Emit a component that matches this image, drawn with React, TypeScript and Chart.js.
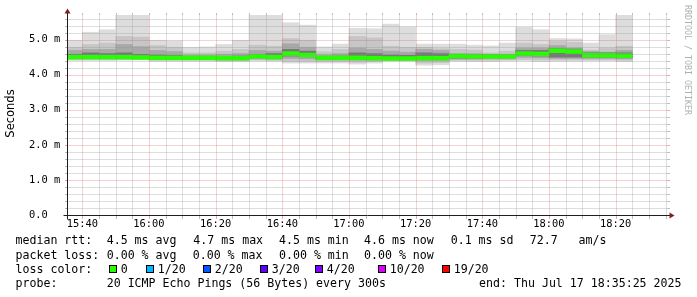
import React, { useEffect, useRef } from 'react';
import { Chart, registerables } from 'chart.js';

Chart.register(...registerables);

// 5-minute bins (start time of each step)
const BIN_STARTS = [
  '15:35', '15:40', '15:45', '15:50', '15:55',
  '16:00', '16:05', '16:10', '16:15', '16:20', '16:25', '16:30', '16:35', '16:40', '16:45', '16:50', '16:55',
  '17:00', '17:05', '17:10', '17:15', '17:20', '17:25', '17:30', '17:35', '17:40', '17:45', '17:50', '17:55',
  '18:00', '18:05', '18:10', '18:15', '18:20',
];

// values in milliseconds
const MEDIAN_MS = [4.50, 4.50, 4.50, 4.50, 4.49, 4.48, 4.48, 4.48, 4.48, 4.47, 4.47, 4.52, 4.50, 4.60, 4.56, 4.48, 4.48, 4.48, 4.47, 4.46, 4.46, 4.47, 4.47, 4.53, 4.52, 4.52, 4.52, 4.60, 4.59, 4.68, 4.66, 4.55, 4.55, 4.54];
const MIN_MS = [4.40, 4.40, 4.40, 4.41, 4.42, 4.38, 4.38, 4.38, 4.38, 4.37, 4.37, 4.39, 4.38, 4.33, 4.33, 4.33, 4.33, 4.30, 4.33, 4.38, 4.38, 4.27, 4.28, 4.38, 4.37, 4.37, 4.39, 4.39, 4.37, 4.38, 4.38, 4.39, 4.39, 4.37];
const LOW1_MS = [4.43, 4.43, 4.43, 4.43, 4.44, 4.41, 4.41, 4.41, 4.41, 4.40, 4.40, 4.42, 4.41, 4.38, 4.38, 4.37, 4.37, 4.35, 4.37, 4.41, 4.41, 4.33, 4.34, 4.41, 4.41, 4.41, 4.42, 4.43, 4.42, 4.42, 4.42, 4.42, 4.42, 4.41];
const LOW2_MS = [4.45, 4.45, 4.45, 4.45, 4.45, 4.43, 4.43, 4.43, 4.43, 4.42, 4.42, 4.45, 4.44, 4.46, 4.45, 4.42, 4.42, 4.41, 4.41, 4.42, 4.42, 4.40, 4.40, 4.44, 4.44, 4.45, 4.45, 4.49, 4.48, 4.46, 4.46, 4.46, 4.46, 4.45];
const LOW3_MS = [4.47, 4.47, 4.47, 4.47, 4.47, 4.45, 4.45, 4.45, 4.45, 4.44, 4.44, 4.48, 4.47, 4.53, 4.51, 4.45, 4.45, 4.44, 4.43, 4.43, 4.43, 4.44, 4.44, 4.47, 4.47, 4.48, 4.48, 4.54, 4.53, 4.50, 4.50, 4.50, 4.50, 4.48];
const UP3_MS = [4.58, 4.62, 4.60, 4.62, 4.58, 4.56, 4.55, 4.52, 4.52, 4.52, 4.53, 4.58, 4.60, 4.72, 4.67, 4.52, 4.53, 4.62, 4.60, 4.56, 4.55, 4.62, 4.60, 4.56, 4.56, 4.56, 4.56, 4.69, 4.69, 4.74, 4.73, 4.62, 4.62, 4.62];
const UP2_MS = [4.69, 4.72, 4.72, 4.86, 4.80, 4.69, 4.66, 4.56, 4.56, 4.58, 4.60, 4.69, 4.67, 4.88, 4.78, 4.57, 4.60, 4.76, 4.72, 4.67, 4.64, 4.72, 4.69, 4.60, 4.60, 4.58, 4.58, 4.76, 4.76, 4.83, 4.76, 4.66, 4.64, 4.69];
const UP1_MS = [4.78, 4.86, 4.90, 5.09, 5.07, 4.83, 4.78, 4.62, 4.62, 4.67, 4.72, 4.84, 4.81, 5.03, 4.98, 4.65, 4.72, 5.09, 5.05, 4.81, 4.78, 4.78, 4.74, 4.72, 4.70, 4.62, 4.67, 4.90, 4.86, 4.95, 4.92, 4.70, 4.76, 4.81];
const MAX_MS = [4.98, 5.21, 5.28, 5.70, 5.70, 4.98, 4.96, 4.78, 4.79, 4.86, 4.98, 5.69, 5.70, 5.48, 5.41, 4.79, 4.87, 5.32, 5.31, 5.44, 5.36, 4.87, 4.87, 4.87, 4.84, 4.82, 4.90, 5.35, 5.28, 5.03, 5.02, 4.90, 5.14, 5.70];

const X_START = '15:35:25';
const X_END = '18:35:25';
const X_TICK_LABELS = ['15:40', '16:00', '16:20', '16:40', '17:00', '17:20', '17:40', '18:00', '18:20'];
const Y_TICK_VALUES = [0, 1, 2, 3, 4, 5];
const Y_TICK_LABELS = ['0.0', '1.0 m', '2.0 m', '3.0 m', '4.0 m', '5.0 m'];
const Y_MAX = 5.70;

const RTT_STATS = ['4.5 ms avg', '4.7 ms max', '4.5 ms min', '4.6 ms now', '0.1 ms sd', '72.7', 'am/s'];
const LOSS_STATS = ['0.00 % avg', '0.00 % max', '0.00 % min', '0.00 % now'];
const LOSS_LEVELS = ['0', '1/20', '2/20', '3/20', '4/20', '10/20', '19/20'];
const LOSS_COLORS = ['#26ff00', '#00b8ff', '#0059ff', '#5e00ff', '#7e00ff', '#dd00ff', '#ff0000'];
const PROBE_TEXT = '20 ICMP Echo Pings (56 Bytes) every 300s';
const END_TEXT = 'end: Thu Jul 17 18:35:25 2025';
const WATERMARK = 'RRDTOOL / TOBI OETIKER';
const Y_TITLE = 'Seconds';

function toMin(s: string): number {
  const p = s.split(':').map(Number);
  return p[0] * 60 + p[1] + (p[2] || 0) / 60;
}

const MONO = '"DejaVu Sans Mono", monospace';

const rrdPlugin = {
  id: 'rrd',
  afterDatasetsDraw(chart: any) {
    const { ctx, chartArea: a, scales } = chart;
    const x = scales.x;
    const y = scales.y;
    const left = Math.round(a.left) + 0.5;
    const right = Math.round(a.right) + 0.5;
    const top = Math.round(a.top) + 0.5;
    const bottom = Math.round(a.bottom) + 0.5;
    const grid = 'rgba(143,143,143,0.6)';
    const mgrid = 'rgba(222,79,79,0.5)';
    ctx.save();
    ctx.lineWidth = 1;

    const hline = (v: number, color: string) => {
      const py = Math.round(y.getPixelForValue(v)) + 0.5;
      ctx.strokeStyle = color;
      ctx.setLineDash([]);
      ctx.beginPath();
      ctx.moveTo(left - 2.5, py); ctx.lineTo(left, py);
      ctx.moveTo(right, py); ctx.lineTo(right + 2.5, py);
      ctx.stroke();
      ctx.setLineDash([1, 1]);
      ctx.beginPath();
      ctx.moveTo(left - 1, py); ctx.lineTo(right + 1, py);
      ctx.stroke();
    };
    const vline = (t: number, color: string) => {
      const px = Math.round(x.getPixelForValue(t)) + 0.5;
      ctx.strokeStyle = color;
      ctx.setLineDash([]);
      ctx.beginPath();
      ctx.moveTo(px, top - 2.5); ctx.lineTo(px, top);
      ctx.moveTo(px, bottom); ctx.lineTo(px, bottom + 3.5);
      ctx.stroke();
      ctx.setLineDash([1, 1]);
      ctx.beginPath();
      ctx.moveTo(px, bottom); ctx.lineTo(px, top);
      ctx.stroke();
    };

    // minor grid
    for (let k = 1; k * 0.2 < Y_MAX; k++) {
      if (k % 5 === 0) continue;
      hline(k * 0.2, grid);
    }
    const majorT = X_TICK_LABELS.map(toMin);
    for (let t = Math.ceil(x.min / 5) * 5; t <= x.max; t += 5) {
      if (majorT.includes(t)) continue;
      vline(t, grid);
    }
    // major grid
    for (const v of Y_TICK_VALUES) if (v > 0) hline(v, mgrid);
    for (const t of majorT) vline(t, mgrid);

    // axes
    ctx.setLineDash([]);
    ctx.strokeStyle = 'rgb(31,31,31)';
    ctx.beginPath();
    ctx.moveTo(left - 4, bottom); ctx.lineTo(right + 4, bottom);
    ctx.moveTo(left, bottom + 4); ctx.lineTo(left, top - 4);
    ctx.stroke();

    // arrows
    ctx.fillStyle = 'rgb(128,31,31)';
    ctx.beginPath();
    ctx.moveTo(right + 2, bottom - 3); ctx.lineTo(right + 2, bottom + 3); ctx.lineTo(right + 7, bottom);
    ctx.closePath(); ctx.fill();
    ctx.beginPath();
    ctx.moveTo(left - 3, top - 2); ctx.lineTo(left + 3, top - 2); ctx.lineTo(left, top - 7);
    ctx.closePath(); ctx.fill();
    ctx.restore();
  },
  afterDraw(chart: any) {
    const { ctx } = chart;
    ctx.save();
    // y title
    ctx.fillStyle = '#000';
    ctx.font = '11.5px "DejaVu Sans", sans-serif';
    ctx.textAlign = 'center';
    ctx.textBaseline = 'middle';
    ctx.save();
    ctx.translate(11, 113.5);
    ctx.rotate(-Math.PI / 2);
    ctx.fillText(Y_TITLE, 0, 0);
    ctx.restore();

    // watermark
    ctx.save();
    ctx.translate(687, 60);
    ctx.rotate(Math.PI / 2);
    ctx.font = '8.3px ' + MONO;
    ctx.fillStyle = '#b0b0b0';
    ctx.fillText(WATERMARK, 0, 0);
    ctx.restore();

    // legend
    ctx.font = '11.6px ' + MONO;
    ctx.fillStyle = '#000';
    ctx.textAlign = 'left';
    ctx.textBaseline = 'middle';
    const y1 = 241, y2 = 255.5, y3 = 269.5, y4 = 283.5;
    ctx.fillText('median rtt:', 15.5, y1);
    const rttX = [106.7, 193.3, 279, 364, 450.7, 529.7, 578.6];
    RTT_STATS.forEach((s, i) => ctx.fillText(s, rttX[i], y1));
    ctx.fillText('packet loss:', 15.5, y2);
    const lossX = [106.7, 192.7, 279, 364];
    LOSS_STATS.forEach((s, i) => ctx.fillText(s, lossX[i], y2));
    ctx.fillText('loss color:', 15.5, y3);
    const boxX = [108.5, 145.5, 202.5, 259.5, 314.5, 377.5, 441.5];
    LOSS_LEVELS.forEach((s, i) => {
      const bx = Math.round(boxX[i]);
      ctx.fillStyle = '#000';
      ctx.fillRect(bx, 265, 8, 8);
      ctx.fillStyle = LOSS_COLORS[i];
      ctx.fillRect(bx + 1, 266, 6, 6);
      ctx.fillStyle = '#000';
      ctx.fillText(s, boxX[i] + 12.2, y3);
    });
    ctx.fillText('probe:', 15.5, y4);
    ctx.fillText(PROBE_TEXT, 106.7, y4);
    ctx.textAlign = 'right';
    ctx.fillText(END_TEXT, 681.5, y4);
    ctx.restore();
  },
};

export default function App() {
  const ref = useRef<HTMLCanvasElement>(null);
  useEffect(() => {
    const canvas = ref.current!;
    const centers = BIN_STARTS.map((s) => toMin(s) + 2.5);
    const layer = (lo: number[], hi: number[], color: string, order: number) => ({
      type: 'bar' as const,
      data: centers.map((c, i) => ({ x: c, y: [lo[i], hi[i]] })),
      backgroundColor: color,
      borderWidth: 0,
      barPercentage: 1,
      categoryPercentage: 1,
      grouped: false,
      order,
    });
    const medianHalf = 0.055;
    const datasets: any[] = [
      layer(MIN_MS, MAX_MS, '#dddddd', 5),
      layer(LOW1_MS, UP1_MS, '#c6c6c6', 4),
      layer(LOW2_MS, UP2_MS, '#a8a8a8', 3),
      layer(LOW3_MS, UP3_MS, '#777777', 2),
      layer(MEDIAN_MS.map((m) => m - medianHalf), MEDIAN_MS.map((m) => m + medianHalf), LOSS_COLORS[0], 1),
    ];
    const tickFont = { family: MONO, size: 10.4 };
    const chart = new Chart(canvas, {
      type: 'bar',
      data: { datasets },
      options: {
        animation: false,
        responsive: false,
        maintainAspectRatio: false,
        events: [],
        layout: { padding: { left: 29, right: 30, top: 15, bottom: 0 } },
        plugins: { legend: { display: false }, tooltip: { enabled: false }, title: { display: false } },
        scales: {
          x: {
            type: 'linear',
            min: toMin(X_START),
            max: toMin(X_END),
            offset: false,
            grid: { display: false, drawTicks: false },
            border: { display: false },
            ticks: {
              font: tickFont,
              color: '#000',
              padding: 3,
              autoSkip: false,
              maxRotation: 0,
              callback: (v: any) => {
                const l = X_TICK_LABELS.find((s) => Math.abs(toMin(s) - Number(v)) < 1e-6);
                return l ?? '';
              },
            },
            afterBuildTicks: (s: any) => {
              s.ticks = X_TICK_LABELS.map((l) => ({ value: toMin(l) }));
            },
            afterFit: (s: any) => {
              s.height = 82;
            },
          },
          y: {
            type: 'linear',
            min: 0,
            max: Y_MAX,
            grid: { display: false, drawTicks: false },
            border: { display: false },
            ticks: {
              font: tickFont,
              color: '#000',
              padding: 6,
              crossAlign: 'far',
              autoSkip: false,
              callback: (v: any) => {
                const i = Y_TICK_VALUES.findIndex((t) => Math.abs(t - Number(v)) < 1e-6);
                return i >= 0 ? Y_TICK_LABELS[i] : '';
              },
            },
            afterBuildTicks: (s: any) => {
              s.ticks = Y_TICK_VALUES.map((v) => ({ value: v }));
            },
            afterFit: (s: any) => {
              s.width = 38;
            },
          },
        },
      } as any,
      plugins: [rrdPlugin],
    });
    return () => chart.destroy();
  }, []);
  return (
    <div style={{ position: 'absolute', left: 0, top: 0, width: 697, height: 297, background: '#fff' }}>
      <canvas ref={ref} width={697} height={297} style={{ display: 'block', width: 697, height: 297 }} />
    </div>
  );
}
